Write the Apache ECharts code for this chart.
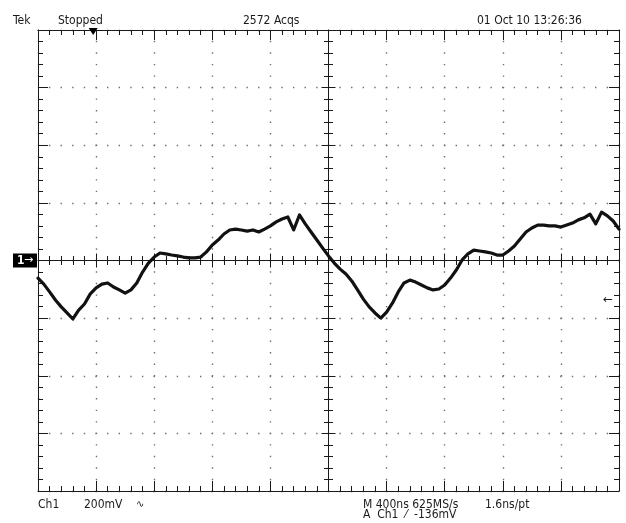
<!DOCTYPE html>
<html>
<head>
<meta charset="utf-8">
<title>Tek Ch1 capture</title>
<script src="https://cdn.jsdelivr.net/npm/echarts@6/dist/echarts.min.js"></script>
<style>
  html, body { margin: 0; padding: 0; background: #fff; }
  #scope { width: 626px; height: 523px; }
</style>
</head>
<body>
<div id="scope"></div>
<script>
// Sample times (ns) across the 10-division record, 400 ns/div
const sampleTimeNs = [
  0, 40, 80, 120, 160, 200, 240, 280, 320, 360,
  400, 440, 480, 520, 560, 600, 640, 680, 720, 760,
  800, 840, 880, 920, 960, 1000, 1040, 1080, 1120, 1160,
  1200, 1240, 1280, 1320, 1360, 1400, 1440, 1480, 1520, 1560,
  1600, 1640, 1680, 1720, 1760, 1800, 1840, 1880, 1920, 1960,
  2000, 2040, 2080, 2120, 2160, 2200, 2240, 2280, 2320, 2360,
  2400, 2440, 2480, 2520, 2560, 2600, 2640, 2680, 2720, 2760,
  2800, 2840, 2880, 2920, 2960, 3000, 3040, 3080, 3120, 3160,
  3200, 3240, 3280, 3320, 3360, 3400, 3440, 3480, 3520, 3560,
  3600, 3640, 3680, 3720, 3760, 3800, 3840, 3880, 3920, 3960,
  4000
];

// Channel 1 voltage (mV), 200 mV/div
const ch1mV = [
  -61, -82, -109, -137, -161, -182, -203, -172, -151, -116,
  -95, -82, -78, -92, -102, -113, -102, -78, -40, -9,
  12, 26, 23, 19, 16, 12, 9, 9, 12, 30,
  54, 71, 92, 106, 109, 106, 102, 106, 99, 109,
  120, 134, 144, 151, 106, 158, 127, 99, 71, 43,
  16, -9, -30, -47, -71, -102, -134, -161, -182, -200,
  -179, -148, -109, -78, -68, -75, -85, -95, -102, -99,
  -85, -61, -33, 2, 23, 36, 33, 30, 26, 19,
  19, 33, 50, 75, 99, 113, 123, 123, 120, 120,
  116, 123, 130, 141, 148, 161, 127, 168, 155, 137,
  109
];

// Display settings
const timeRangeNs = [0, 4000];
const timePerDivNs = 400;
const voltRangeMv = [-800, 800];
const voltPerDivMv = 200;
const triggerTimeNs = 380;
const triggerLevelMv = -136;

const headerTexts = ['Tek', 'Stopped', '2572 Acqs', '01 Oct 10 13:26:36'];
const footerTexts = ['Ch1', '200mV', '\u223F', 'M 400ns 625MS/s', '1.6ns/pt', 'A  Ch1  \u2044  -136mV'];

const FONT = "'Liberation Sans Narrow', 'DejaVu Sans Condensed', 'Liberation Sans', sans-serif";
const INK = '#1a1a1a';
const GRID = { left: 38, top: 30, width: 581, height: 461 };
const halfW = GRID.width / 2;
const halfH = GRID.height / 2;

function timeAxis(extra) {
  return Object.assign({
    type: 'value', min: timeRangeNs[0], max: timeRangeNs[1], interval: timePerDivNs,
    axisLabel: { show: false },
    splitLine: { show: false },
    axisLine: { show: true, onZero: false, lineStyle: { color: INK, width: 1 } },
    axisTick: { show: true, inside: true, length: 10, lineStyle: { color: INK, width: 1 } },
    minorTick: { show: true, splitNumber: 5, length: 5, lineStyle: { color: INK, width: 1 } }
  }, extra);
}
function voltAxis(extra) {
  return Object.assign({
    type: 'value', min: voltRangeMv[0], max: voltRangeMv[1], interval: voltPerDivMv,
    axisLabel: { show: false },
    splitLine: { show: false },
    axisLine: { show: true, onZero: false, lineStyle: { color: INK, width: 1 } },
    axisTick: { show: true, inside: true, length: 10, lineStyle: { color: INK, width: 1 } },
    minorTick: { show: true, splitNumber: 5, length: 5, lineStyle: { color: INK, width: 1 } }
  }, extra);
}

const dotV = GRID.height / 40;   // minor division spacing along vertical graticule lines
const dotH = GRID.width / 50;    // minor division spacing along horizontal graticule lines

const chart = echarts.init(document.getElementById('scope'), null, { renderer: 'canvas' });

const option = {
  backgroundColor: '#ffffff',
  animation: false,
  grid: Object.assign({ containLabel: false }, GRID),
  xAxis: [
    // bottom frame with dotted graticule columns
    timeAxis({ position: 'bottom',
      splitLine: { show: true, lineStyle: { color: '#6e6e6e', width: 1.4, type: [1.4, dotV - 1.4], dashOffset: 0.7 } } }),
    // top frame
    timeAxis({ position: 'top' }),
    // horizontal centre line, ticks upward
    timeAxis({ position: 'bottom', offset: -halfH,
      axisTick: { show: true, inside: true, length: 7, lineStyle: { color: INK } },
      minorTick: { show: true, splitNumber: 5, length: 4.5, lineStyle: { color: INK } } }),
    // horizontal centre line, ticks downward
    timeAxis({ position: 'bottom', offset: -halfH,
      axisLine: { show: false, onZero: false },
      axisTick: { show: true, inside: false, length: 7, lineStyle: { color: INK } },
      minorTick: { show: true, splitNumber: 5, length: 4.5, lineStyle: { color: INK } } })
  ],
  yAxis: [
    voltAxis({ position: 'left',
      splitLine: { show: true, lineStyle: { color: '#6e6e6e', width: 1.4, type: [1.4, dotH - 1.4], dashOffset: 0.7 } } }),
    voltAxis({ position: 'right' }),
    voltAxis({ position: 'left', offset: -halfW,
      axisTick: { show: true, inside: true, length: 7, lineStyle: { color: INK } },
      minorTick: { show: true, splitNumber: 5, length: 4.5, lineStyle: { color: INK } } }),
    voltAxis({ position: 'left', offset: -halfW,
      axisLine: { show: false, onZero: false },
      axisTick: { show: true, inside: false, length: 7, lineStyle: { color: INK } },
      minorTick: { show: true, splitNumber: 5, length: 4.5, lineStyle: { color: INK } } })
  ],
  series: [{
    name: 'Ch1',
    type: 'line',
    xAxisIndex: 0,
    yAxisIndex: 0,
    data: sampleTimeNs.map((t, i) => [t, ch1mV[i]]),
    showSymbol: false,
    smooth: false,
    z: 5,
    lineStyle: { color: '#111', width: 3.2, join: 'round', cap: 'round' }
  }]
};
chart.setOption(option);

// Readouts and markers placed from the axis scales
const zeroPx = chart.convertToPixel({ xAxisIndex: 0, yAxisIndex: 0 }, [0, 0]);
const trigPx = chart.convertToPixel({ xAxisIndex: 0, yAxisIndex: 0 }, [triggerTimeNs, triggerLevelMv]);
const rightPx = chart.convertToPixel({ xAxisIndex: 0 }, timeRangeNs[1]);
const topPx = chart.convertToPixel({ yAxisIndex: 0 }, voltRangeMv[1]);

function label(text, x, y, extra) {
  return {
    type: 'text', z: 20,
    style: Object.assign({ text: text, x: x, y: y, fill: INK, font: '12px ' + FONT, align: 'left', verticalAlign: 'middle' }, extra || {})
  };
}

chart.setOption({
  graphic: [
    label(headerTexts[0], 13, 21),
    label(headerTexts[1], 58, 21),
    label(headerTexts[2], 243, 21),
    label(headerTexts[3], 477, 21),
    label(footerTexts[0], 38, 504.5),
    label(footerTexts[1], 84, 504.5),
    label(footerTexts[2], 136, 504.5, { font: '10px DejaVu Sans' }),
    label(footerTexts[3], 363, 504.5),
    label(footerTexts[4], 485, 504.5),
    label(footerTexts[5], 363, 514.5),
    // channel 1 ground reference marker
    { type: 'rect', z: 20, shape: { x: 13, y: zeroPx[1] - 7, width: 24, height: 14 }, style: { fill: '#000' } },
    label('1', 17, zeroPx[1], { fill: '#fff', font: 'bold 12px ' + FONT }),
    label('\u2192', 24, zeroPx[1], { fill: '#fff', font: '11px DejaVu Sans' }),
    // trigger position marker on the top frame
    { type: 'polygon', z: 20, shape: { points: [[trigPx[0] - 4.5, topPx - 2], [trigPx[0] + 4.5, topPx - 2], [trigPx[0], topPx + 5]] }, style: { fill: '#000' } },
    // trigger level marker at the right edge
    label('\u2190', rightPx - 16, trigPx[1], { font: '12px DejaVu Sans' })
  ]
});
</script>
</body>
</html>
